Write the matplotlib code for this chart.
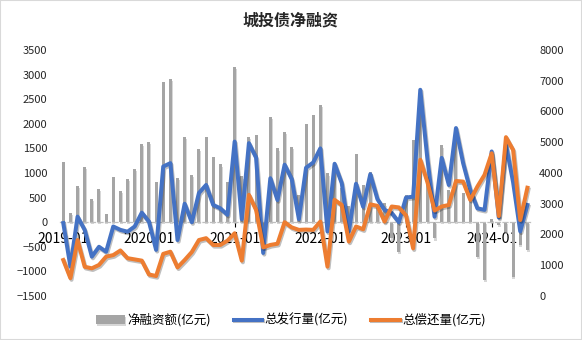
import numpy as np
import matplotlib.pyplot as plt
from matplotlib import patheffects as pe
from matplotlib.patches import Rectangle

plt.rcParams['font.family'] = ['Noto Sans CJK SC', 'DejaVu Sans']

# 2019-01 .. 2024-06, monthly, 亿元
net_financing = [1224, 190, 741, 1122, 469, 673, 170, 918, 632, 877, 1081, 1591,
                 1632, 816, 2855, 2916, 904, 1733, 965, 1496, 1736, 1315, 1173, 807,
                 3160, 930, 1736, 1765, -200, 2142, 1498, 1837, 1532, 550, 1990, 2180,
                 2390, 990, 1150, 700, 320, 1380, 750, 1020, 300, 380, -330, -605,
                 550, 1670, 2280, 820, -330, 1560, 650, 1700, 600, 450, -700, -1180,
                 75, -60, -200, -1110, -470, -570]
issuance = [2370, 955, 2580, 2150, 1280, 1600, 1440, 2260, 2150, 2090, 2260, 2710,
            2420, 1500, 4210, 4320, 1820, 3000, 2400, 3350, 3610, 2960, 2850, 2640,
            5020, 2500, 4970, 4500, 1400, 3830, 3120, 4270, 3800, 2500, 4170, 4340,
            4800, 2100, 4300, 3670, 2100, 3650, 2900, 3960, 3150, 2800, 2700, 2400,
            3200, 3230, 6705, 4450, 2580, 4490, 3610, 5460, 4320, 3450, 2850, 2800,
            4700, 2550, 4920, 3700, 2100, 2960]
repayment = [1170, 580, 1820, 950, 900, 1010, 1280, 1330, 1480, 1230, 1190, 1150,
             700, 650, 1370, 1440, 930, 1170, 1430, 1820, 1880, 1660, 1660, 1800,
             2040, 1150, 3290, 2800, 1580, 1660, 1700, 2400, 2230, 2150, 2160, 2150,
             2420, 955, 3125, 2960, 1770, 2260, 2170, 2980, 2930, 2420, 2910, 2880,
             2620, 1550, 4430, 3700, 2780, 2910, 2960, 3740, 3720, 3125, 3560, 3940,
             4640, 2600, 5165, 4750, 2470, 3520]
tick_labels = ['2019-01', '2020-01', '2021-01', '2022-01', '2023-01', '2024-01']

x = np.arange(len(net_financing))

fig = plt.figure(figsize=(5.82, 3.40), dpi=100)
ax = fig.add_axes([0.1026, 0.1294, 0.8097, 0.7236])
ax2 = ax.twinx()
# top layer only carries the date labels so they sit over the lines
ax3 = ax.twinx()

bar_fx = [pe.SimplePatchShadow(offset=(0.5, -1.5), shadow_rgbFace='#b0b0b0', alpha=0.5), pe.Normal()]
ax.bar(x, net_financing, width=0.42, color='#a5a5a5', label='净融资额(亿元)',
       path_effects=bar_fx, zorder=2)

line_fx = [pe.SimpleLineShadow(offset=(0.8, -1.2), alpha=0.25), pe.Normal()]
ax2.plot(x, issuance, color='#4472c4', lw=2.9, label='总发行量(亿元)',
         path_effects=line_fx, solid_joinstyle='round')
ax2.plot(x, repayment, color='#ed7d31', lw=2.9, label='总偿还量(亿元)',
         path_effects=line_fx, solid_joinstyle='round')

ax.set_xlim(-0.5, len(x) - 0.5)
ax.set_ylim(-1500, 3500)
ax.set_yticks(np.arange(-1500, 3501, 500))
ax2.set_ylim(0, 8000)
ax2.set_yticks(np.arange(0, 8001, 1000))
ax3.set_ylim(-1500, 3500)
ax3.set_yticks([])

ax.set_xticks([])
ax3.set_xticks(x[::12])
ax3.set_xticklabels(tick_labels)

for a in (ax, ax2, ax3):
    for s in a.spines.values():
        s.set_visible(False)
ax.spines['bottom'].set_visible(True)
ax.spines['bottom'].set_position(('data', 0))
ax.spines['bottom'].set_color('#bfbfbf')
ax.spines['bottom'].set_linestyle((0, (4, 2)))
ax.spines['bottom'].set_linewidth(0.9)
ax.spines['bottom'].set_zorder(3)
ax3.spines['bottom'].set_position(('data', 0))
ax3.patch.set_visible(False)

ax3.tick_params(axis='x', length=3, color='#bfbfbf', pad=7, labelsize=8, labelcolor='#000000')
ax.tick_params(axis='y', length=0, pad=9, labelsize=8, labelcolor='#262626')
ax2.tick_params(axis='y', length=0, pad=6, labelsize=8, labelcolor='#262626')

fig.text(0.5, 0.94, '城投债净融资', ha='center', va='center', fontsize=11.5,
         fontweight='bold', color='#262626')

h1, l1 = ax.get_legend_handles_labels()
h2, l2 = ax2.get_legend_handles_labels()
fig.legend(h1 + h2, l1 + l2, loc='center', bbox_to_anchor=(0.5, 0.058), ncol=3,
           frameon=False, fontsize=9, handlelength=2.3, handleheight=0.7,
           columnspacing=1.8, handletextpad=0.2)

fig.patches.append(Rectangle((0, 0), 1, 1, transform=fig.transFigure, fill=False,
                             edgecolor='#d9d9d9', lw=1.5))

fig.savefig('out.png', dpi=100)
